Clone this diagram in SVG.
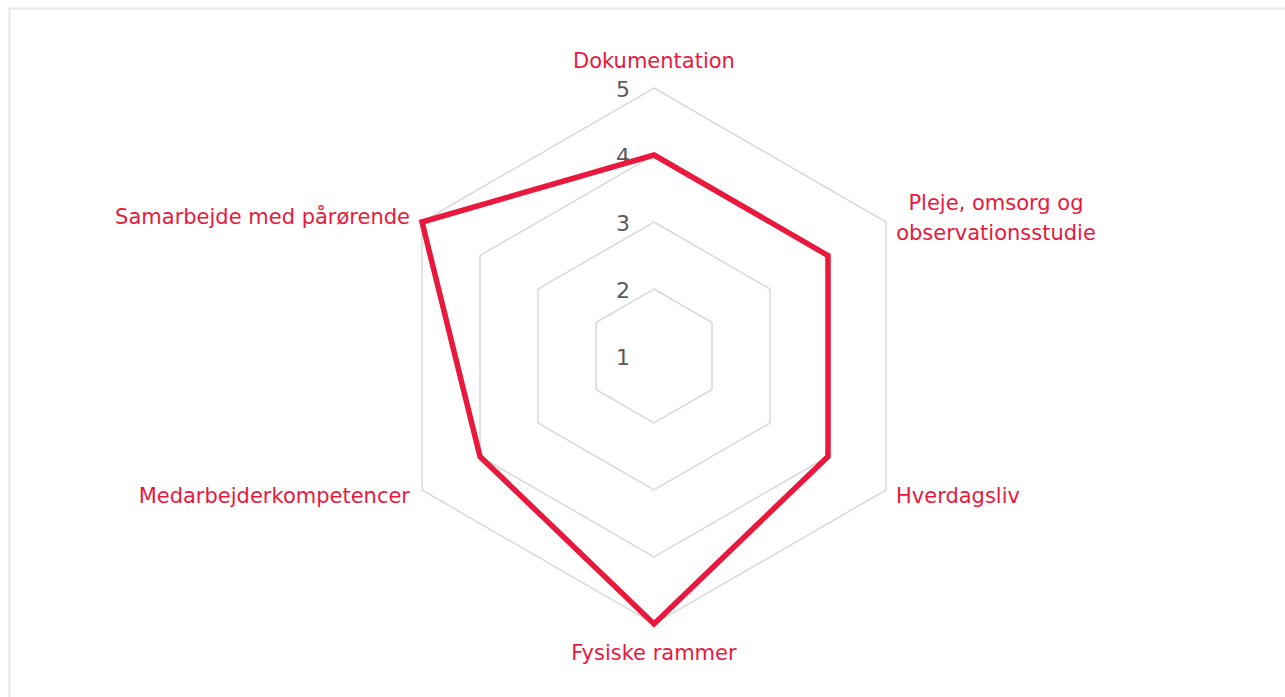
<svg xmlns="http://www.w3.org/2000/svg" width="1285" height="697" viewBox="0 0 1285 697">
<style>
.grid{fill:none;stroke:#d9d9d9;stroke-width:1.5}
.series{fill:none;stroke:#e8193c;stroke-width:5.5;stroke-linejoin:miter}
.lab{font-family:"DejaVu Sans",sans-serif;font-size:21px;fill:#e8193c}
.num{font-family:"DejaVu Sans",sans-serif;font-size:22px;fill:#595959;text-anchor:end}
</style>
<rect x="0" y="0" width="1285" height="697" fill="#ffffff"/>
<path d="M9.5,697 V8.5 H1285" fill="none" stroke="#e6e6e6" stroke-width="2"/>
<g id="grid">
<polygon class="grid" points="654,289 712,322.5 712,389.5 654,423 596,389.5 596,322.5"/>
<polygon class="grid" points="654,222 770,289 770,423 654,490 538,423 538,289"/>
<polygon class="grid" points="654,155 828,255.5 828,456.5 654,557 480,456.5 480,255.5"/>
<polygon class="grid" points="654,88 886,222 886,490 654,624 422,490 422,222"/>
</g>
<g id="axis-labels">
<text class="num" x="630" y="97">5</text>
<text class="num" x="630" y="164">4</text>
<text class="num" x="630" y="231">3</text>
<text class="num" x="630" y="298">2</text>
<text class="num" x="630" y="365">1</text>
</g>
<g id="connectors">
<polygon class="series" points="654,155 828,255.5 828,456.5 654,624 480,456.5 422,222"/>
</g>
<g id="node-dokumentation"><text class="lab" x="654" y="68" text-anchor="middle">Dokumentation</text></g>
<g id="node-pleje"><text class="lab" x="996" y="210" text-anchor="middle">Pleje, omsorg og</text><text class="lab" x="996" y="240" text-anchor="middle">observationsstudie</text></g>
<g id="node-hverdagsliv"><text class="lab" x="896" y="503">Hverdagsliv</text></g>
<g id="node-fysiske"><text class="lab" x="654" y="660" text-anchor="middle">Fysiske rammer</text></g>
<g id="node-medarbejder"><text class="lab" x="410" y="503" text-anchor="end">Medarbejderkompetencer</text></g>
<g id="node-samarbejde"><text class="lab" x="410" y="224" text-anchor="end">Samarbejde med pårørende</text></g>
</svg>
